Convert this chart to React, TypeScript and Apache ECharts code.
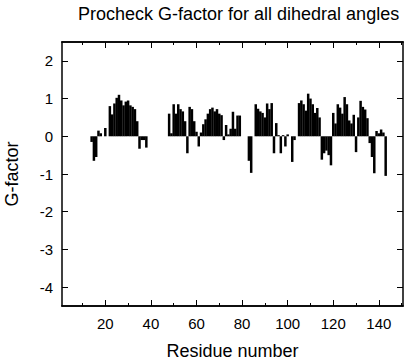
import React, { useEffect, useRef } from "react";
import * as echarts from "echarts";

const residues: number[] = [
  14, 15, 16, 17, 18, 20, 22, 23, 24, 25, 26, 27, 28, 29, 30, 31, 32, 33, 34, 35, 36, 37, 38,
  48, 49, 50, 51, 52, 53, 54, 55, 56, 57, 58, 59, 60, 61, 62, 63, 64, 65, 66, 67, 68, 69, 70, 71, 72, 73, 74, 75, 76, 77, 78, 79,
  83, 84, 86, 87, 88, 89, 90, 91, 92, 93, 94, 95, 96, 97, 98, 99, 100, 102, 103,
  105, 106, 107, 108, 109, 110, 111, 112, 113, 114, 115, 116, 117, 118, 119, 120, 121, 122, 123, 124, 125, 126, 127, 128, 129, 130,
  131, 132, 133, 134, 135, 136, 137, 138, 139, 140, 141, 142, 143,
];
const gFactor: number[] = [
  -0.15, -0.65, -0.55, 0.15, 0.08, 0.22, 0.8, 0.58, 0.87, 1.02, 1.1, 0.95, 0.82, 0.92, 0.95, 0.82, 0.78, 0.72, 0.4, -0.33, -0.1, -0.1, -0.3,
  0.6, 0.08, 0.85, 0.6, 0.85, 0.72, 0.66, 0.4, -0.45, 0.78, 0.72, 0.4, 0.12, -0.27, 0.1, 0.32, 0.45, 0.6, 0.72, 0.76, 0.66, 0.72, 0.6, 0.56, -0.1, 0.3, 0.05, 0.2, 0.65, 0.2, 0.55, 0.55,
  -0.65, -0.97, 0.85, 0.73, 0.66, 0.62, 0.5, 0.87, 0.72, 0.88, -0.45, 0.35, 0.03, -0.45, 0.03, -0.27, 0.05, -0.68, -0.1,
  0.88, 0.95, 0.85, 0.68, 1.13, 1.0, 0.85, 0.62, 0.75, 0.5, -0.62, -0.45, -0.38, -0.5, -0.77, 0.62, 0.34, 0.85, 0.76, 0.6, 1.04, 0.85, 0.42, 0.34, 0.57, -0.42,
  0.5, 0.94, 0.78, 0.71, 0.48, -0.18, -0.55, -0.98, 0.14, 0.08, 0.18, 0.1, -1.05,
];
const xMajorTicks: number[] = [20, 40, 60, 80, 100, 120, 140];
const xMinorTicks: number[] = [10, 30, 50, 70, 90, 110, 130, 150];
const yTicks: number[] = [-4, -3, -2, -1, 0, 1, 2];

const FONT = "Liberation Sans";
const X_MIN = 1;
const X_MAX = 150.6;
const Y_MIN = -4.5;
const Y_MAX = 2.5;

export default function App() {
  const ref = useRef<HTMLDivElement>(null);
  useEffect(() => {
    document.body.style.margin = "0";
    const chart = echarts.init(ref.current!, undefined, { renderer: "svg" });
    const line = { show: true, lineStyle: { color: "#000", width: 1.5 } };
    const mkX = (pos: "bottom" | "top", ticks: number[], len: number, labels: boolean) => ({
      type: "value" as const,
      position: pos,
      min: X_MIN,
      max: X_MAX,
      axisLine: { ...line, onZero: false },
      axisTick: { show: true, inside: true, length: len, customValues: ticks, lineStyle: { color: "#000" } },
      axisLabel: labels
        ? { show: true, customValues: xMajorTicks, color: "#000", fontSize: 15, fontFamily: FONT, margin: 10 }
        : { show: false },
      splitLine: { show: false },
    });
    const mkY = (pos: "left" | "right", labels: boolean) => ({
      type: "value" as const,
      position: pos,
      min: Y_MIN,
      max: Y_MAX,
      axisLine: { ...line, onZero: false },
      axisTick: { show: true, inside: true, length: 6, customValues: yTicks, lineStyle: { color: "#000" } },
      axisLabel: labels
        ? { show: true, customValues: yTicks, color: "#000", fontSize: 15, fontFamily: FONT, margin: 9 }
        : { show: false },
      splitLine: { show: false },
    });
    const xb = mkX("bottom", xMajorTicks, 6, true) as any;
    xb.name = "Residue number";
    xb.nameLocation = "middle";
    xb.nameGap = 36;
    xb.nameTextStyle = { color: "#000", fontSize: 18, fontFamily: FONT };
    const yl = mkY("left", true) as any;
    yl.name = "G-factor";
    yl.nameLocation = "middle";
    yl.nameGap = 41;
    yl.nameRotate = 90;
    yl.nameTextStyle = { color: "#000", fontSize: 18, fontFamily: FONT };

    chart.setOption({
      animation: false,
      backgroundColor: "#fff",
      title: {
        text: "Procheck G-factor for all dihedral angles",
        left: 73,
        top: 0,
        textStyle: { color: "#000", fontSize: 18, fontWeight: "normal", fontFamily: FONT },
      },
      grid: { left: 62, right: 13, top: 42, bottom: 54, containLabel: false, outerBoundsMode: "none" },
      xAxis: [
        xb,
        mkX("bottom", xMinorTicks, 3, false),
        mkX("top", xMajorTicks, 6, false),
        mkX("top", xMinorTicks, 3, false),
      ],
      yAxis: [yl, mkY("right", false)],
      series: [
        {
          type: "bar",
          xAxisIndex: 0,
          yAxisIndex: 0,
          data: residues.map((r, i) => [r, gFactor[i]]),
          barWidth: 2.5,
          itemStyle: { color: "#000" },
        },
      ],
    });
    return () => chart.dispose();
  }, []);
  return <div ref={ref} style={{ position: "fixed", left: 0, top: 0, width: 416, height: 360 }} />;
}
